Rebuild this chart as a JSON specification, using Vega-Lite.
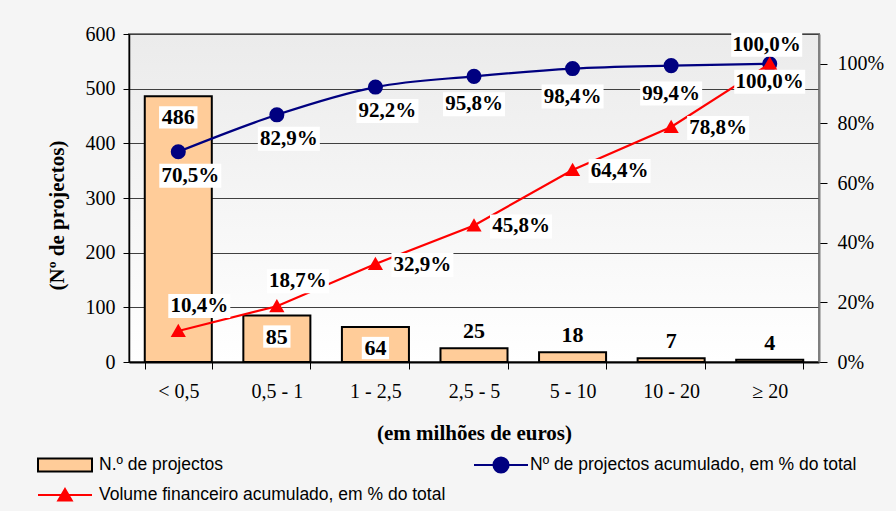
{
  "$schema": "https://vega.github.io/schema/vega-lite/v6.json",
  "width": 690,
  "height": 328,
  "autosize": {"type": "none"},
  "padding": {"left": 129, "top": 34, "right": 77, "bottom": 149},
  "background": "#f5f5f5",
  "config": {
    "locale": {"number": {"decimal": ",", "thousands": ".", "grouping": [3], "currency": ["", " €"]}},
    "view": {
      "fill": {"gradient": "linear", "x1": 0, "y1": 0, "x2": 0, "y2": 1, "stops": [{"offset": 0, "color": "#ebebeb"}, {"offset": 1, "color": "#ffffff"}]},
      "stroke": "#808080",
      "strokeWidth": 2
    },
    "axis": {
      "labelFont": "Liberation Serif", "labelFontSize": 20, "labelColor": "#000",
      "titleFont": "Liberation Serif", "titleFontSize": 21, "titleFontWeight": "bold", "titleColor": "#000",
      "domainColor": "#000", "tickColor": "#000", "gridColor": "#404040", "gridWidth": 1
    },
    "legend": {"labelFont": "Liberation Sans", "labelFontSize": 17.5, "labelColor": "#000", "padding": 0, "labelOffset": 6, "labelLimit": 0},
    "text": {"font": "Liberation Serif", "fontWeight": "bold", "fontSize": 21, "color": "#000", "align": "center", "baseline": "middle"}
  },
  "datasets": {
    "d": [
      {"cat": "< 0,5", "n": 486, "np": 0.705, "vol": 0.104},
      {"cat": "0,5 - 1", "n": 85, "np": 0.829, "vol": 0.187},
      {"cat": "1 - 2,5", "n": 64, "np": 0.922, "vol": 0.329},
      {"cat": "2,5 - 5", "n": 25, "np": 0.958, "vol": 0.458},
      {"cat": "5 - 10", "n": 18, "np": 0.984, "vol": 0.644},
      {"cat": "10 - 20", "n": 7, "np": 0.994, "vol": 0.788},
      {"cat": "≥ 20", "n": 4, "np": 1.0, "vol": 1.0}
    ]
  },
  "data": {"name": "d"},
  "layer": [
    {
      "layer": [
        {
          "mark": {"type": "bar", "stroke": "#000", "strokeWidth": 2},
          "encoding": {
            "x": {"field": "cat", "type": "nominal", "sort": null,
                  "scale": {"paddingInner": 0.32, "paddingOuter": 0.16},
                  "axis": {"title": "(em milhões de euros)", "labelAngle": 0, "tickBand": "extent", "tickSize": 7, "labelPadding": 12, "titlePadding": 21, "domainWidth": 2}},
            "y": {"field": "n", "type": "quantitative", "scale": {"domain": [0, 600], "nice": false},
                  "axis": {"orient": "left", "values": [0, 100, 200, 300, 400, 500, 600], "grid": true, "tickSize": 6, "labelPadding": 8, "title": "(Nº de projectos)", "titlePadding": 18, "titleY": 181, "domainWidth": 1.5}},
            "fill": {"datum": "N.º de projectos", "scale": {"range": ["#FFCC99"]},
                     "legend": {"orient": "none", "legendX": -92, "legendY": 403, "title": null, "symbolType": "M-1,-0.24H1V0.24H-1Z", "symbolSize": 2916, "symbolStrokeColor": "#000", "symbolStrokeWidth": 2}}
          }
        },
        {
          "transform": [{"filter": "datum.n >= 60"}],
          "mark": {"type": "point", "filled": true, "fill": "#ffffff", "opacity": 1, "strokeWidth": 0, "size": 3844, "yOffset": 21},
          "encoding": {
            "x": {"field": "cat", "type": "nominal", "sort": null},
            "y": {"field": "n", "type": "quantitative"},
            "shape": {"condition": {"test": "datum.n >= 100", "value": "M-0.62,-0.36H0.62V0.36H-0.62Z"}, "value": "M-0.44,-0.36H0.44V0.36H-0.44Z"}
          }
        },
        {
          "transform": [{"filter": "datum.n >= 60"}],
          "mark": {"type": "text", "fontSize": 22, "yOffset": 21},
          "encoding": {
            "x": {"field": "cat", "type": "nominal", "sort": null},
            "y": {"field": "n", "type": "quantitative"},
            "text": {"field": "n", "type": "quantitative"}
          }
        },
        {
          "transform": [{"filter": "datum.n < 60"}],
          "mark": {"type": "text", "fontSize": 22, "yOffset": -17},
          "encoding": {
            "x": {"field": "cat", "type": "nominal", "sort": null},
            "y": {"field": "n", "type": "quantitative"},
            "text": {"field": "n", "type": "quantitative"}
          }
        }
      ]
    },
    {
      "layer": [
        {
          "layer": [
            {
              "mark": {"type": "line", "interpolate": "monotone", "strokeWidth": 2.2},
              "encoding": {
                "x": {"field": "cat", "type": "nominal", "sort": null},
                "y": {"field": "np", "type": "quantitative", "scale": {"domain": [0, 1.1], "nice": false},
                      "axis": {"orient": "right", "values": [0, 0.2, 0.4, 0.6, 0.8, 1], "format": ".0%", "grid": false, "tickSize": 8, "labelPadding": 10, "domainColor": "#808080", "domainWidth": 2, "title": null}},
                "color": {"datum": "Nº de projectos acumulado, em % do total", "scale": {"range": ["#000080"]},
                          "legend": {"orient": "none", "legendX": 344, "legendY": 403, "title": null, "labelOffset": 1, "symbolType": "M-1,0H1M0.28,0A0.28,0.28 0 1,1 -0.28,0A0.28,0.28 0 1,1 0.28,0", "symbolSize": 2916, "symbolStrokeWidth": 2, "symbolFillColor": "#000080", "symbolStrokeColor": "#000080"}}
              }
            },
            {
              "mark": {"type": "point", "shape": "circle", "filled": true, "size": 227, "color": "#000080", "opacity": 1},
              "encoding": {
                "x": {"field": "cat", "type": "nominal", "sort": null},
                "y": {"field": "np", "type": "quantitative", "scale": {"domain": [0, 1.1], "nice": false}}
              }
            }
          ]
        },
        {
          "layer": [
            {
              "mark": {"type": "line", "strokeWidth": 2.2},
              "encoding": {
                "x": {"field": "cat", "type": "nominal", "sort": null},
                "y": {"field": "vol", "type": "quantitative", "scale": {"domain": [0, 1.1], "nice": false}},
                "color": {"datum": "Volume financeiro acumulado, em % do total", "scale": {"range": ["#FF0000"]},
                          "legend": {"orient": "none", "legendX": -92, "legendY": 433, "title": null, "symbolType": "M-1,0H1M0,-0.22L0.25,0.2L-0.25,0.2Z", "symbolSize": 2916, "symbolStrokeWidth": 2, "symbolFillColor": "#FF0000", "symbolStrokeColor": "#FF0000"}}
              }
            },
            {
              "mark": {"type": "point", "shape": "M0,-0.9L0.95,0.75L-0.95,0.75Z", "filled": true, "size": 256, "color": "#FF0000", "opacity": 1},
              "encoding": {
                "x": {"field": "cat", "type": "nominal", "sort": null},
                "y": {"field": "vol", "type": "quantitative", "scale": {"domain": [0, 1.1], "nice": false}}
              }
            }
          ]
        },
        {
          "transform": [{"filter": "datum.np < 0.95"}],
          "mark": {"type": "point", "filled": true, "fill": "#ffffff", "opacity": 1, "strokeWidth": 0, "size": 3844, "shape": "M-1,-0.387H1V0.387H-1Z", "xOffset": 12, "yOffset": 24},
          "encoding": {
            "x": {"field": "cat", "type": "nominal", "sort": null},
            "y": {"field": "np", "type": "quantitative", "scale": {"domain": [0, 1.1], "nice": false}}
          }
        },
        {
          "transform": [{"filter": "datum.np < 0.95"}],
          "mark": {"type": "text", "xOffset": 12, "yOffset": 24},
          "encoding": {
            "x": {"field": "cat", "type": "nominal", "sort": null},
            "y": {"field": "np", "type": "quantitative", "scale": {"domain": [0, 1.1], "nice": false}},
            "text": {"field": "np", "type": "quantitative", "format": ".1%"}
          }
        },
        {
          "transform": [{"filter": "datum.np >= 0.95 && datum.np < 1"}],
          "mark": {"type": "point", "filled": true, "fill": "#ffffff", "opacity": 1, "strokeWidth": 0, "size": 3844, "shape": "M-1,-0.387H1V0.387H-1Z", "yOffset": 28},
          "encoding": {
            "x": {"field": "cat", "type": "nominal", "sort": null},
            "y": {"field": "np", "type": "quantitative", "scale": {"domain": [0, 1.1], "nice": false}}
          }
        },
        {
          "transform": [{"filter": "datum.np >= 0.95 && datum.np < 1"}],
          "mark": {"type": "text", "yOffset": 28},
          "encoding": {
            "x": {"field": "cat", "type": "nominal", "sort": null},
            "y": {"field": "np", "type": "quantitative", "scale": {"domain": [0, 1.1], "nice": false}},
            "text": {"field": "np", "type": "quantitative", "format": ".1%"}
          }
        },
        {
          "transform": [{"filter": "datum.np >= 1"}],
          "mark": {"type": "point", "filled": true, "fill": "#ffffff", "opacity": 1, "strokeWidth": 0, "size": 3844, "shape": "M-1.145,-0.387H1.145V0.387H-1.145Z", "xOffset": -3, "yOffset": -19},
          "encoding": {
            "x": {"field": "cat", "type": "nominal", "sort": null},
            "y": {"field": "np", "type": "quantitative", "scale": {"domain": [0, 1.1], "nice": false}}
          }
        },
        {
          "transform": [{"filter": "datum.np >= 1"}],
          "mark": {"type": "text", "xOffset": -3, "yOffset": -19},
          "encoding": {
            "x": {"field": "cat", "type": "nominal", "sort": null},
            "y": {"field": "np", "type": "quantitative", "scale": {"domain": [0, 1.1], "nice": false}},
            "text": {"field": "np", "type": "quantitative", "format": ".1%"}
          }
        },
        {
          "transform": [{"filter": "datum.vol < 0.2"}],
          "mark": {"type": "point", "filled": true, "fill": "#ffffff", "opacity": 1, "strokeWidth": 0, "size": 3844, "shape": "M-1,-0.387H1V0.387H-1Z", "xOffset": 21, "yOffset": -25},
          "encoding": {
            "x": {"field": "cat", "type": "nominal", "sort": null},
            "y": {"field": "vol", "type": "quantitative", "scale": {"domain": [0, 1.1], "nice": false}}
          }
        },
        {
          "transform": [{"filter": "datum.vol < 0.2"}],
          "mark": {"type": "text", "xOffset": 21, "yOffset": -25},
          "encoding": {
            "x": {"field": "cat", "type": "nominal", "sort": null},
            "y": {"field": "vol", "type": "quantitative", "scale": {"domain": [0, 1.1], "nice": false}},
            "text": {"field": "vol", "type": "quantitative", "format": ".1%"}
          }
        },
        {
          "transform": [{"filter": "datum.vol >= 0.2 && datum.vol < 1"}],
          "mark": {"type": "point", "filled": true, "fill": "#ffffff", "opacity": 1, "strokeWidth": 0, "size": 3844, "shape": "M-1,-0.387H1V0.387H-1Z", "xOffset": 47, "yOffset": 1},
          "encoding": {
            "x": {"field": "cat", "type": "nominal", "sort": null},
            "y": {"field": "vol", "type": "quantitative", "scale": {"domain": [0, 1.1], "nice": false}}
          }
        },
        {
          "transform": [{"filter": "datum.vol >= 0.2 && datum.vol < 1"}],
          "mark": {"type": "text", "xOffset": 47, "yOffset": 1},
          "encoding": {
            "x": {"field": "cat", "type": "nominal", "sort": null},
            "y": {"field": "vol", "type": "quantitative", "scale": {"domain": [0, 1.1], "nice": false}},
            "text": {"field": "vol", "type": "quantitative", "format": ".1%"}
          }
        },
        {
          "transform": [{"filter": "datum.vol >= 1"}],
          "mark": {"type": "point", "filled": true, "fill": "#ffffff", "opacity": 1, "strokeWidth": 0, "size": 3844, "shape": "M-1.145,-0.387H1.145V0.387H-1.145Z", "yOffset": 18},
          "encoding": {
            "x": {"field": "cat", "type": "nominal", "sort": null},
            "y": {"field": "vol", "type": "quantitative", "scale": {"domain": [0, 1.1], "nice": false}}
          }
        },
        {
          "transform": [{"filter": "datum.vol >= 1"}],
          "mark": {"type": "text", "yOffset": 18},
          "encoding": {
            "x": {"field": "cat", "type": "nominal", "sort": null},
            "y": {"field": "vol", "type": "quantitative", "scale": {"domain": [0, 1.1], "nice": false}},
            "text": {"field": "vol", "type": "quantitative", "format": ".1%"}
          }
        }
      ],
      "resolve": {"scale": {"color": "independent"}}
    }
  ],
  "resolve": {"scale": {"y": "independent"}}
}
